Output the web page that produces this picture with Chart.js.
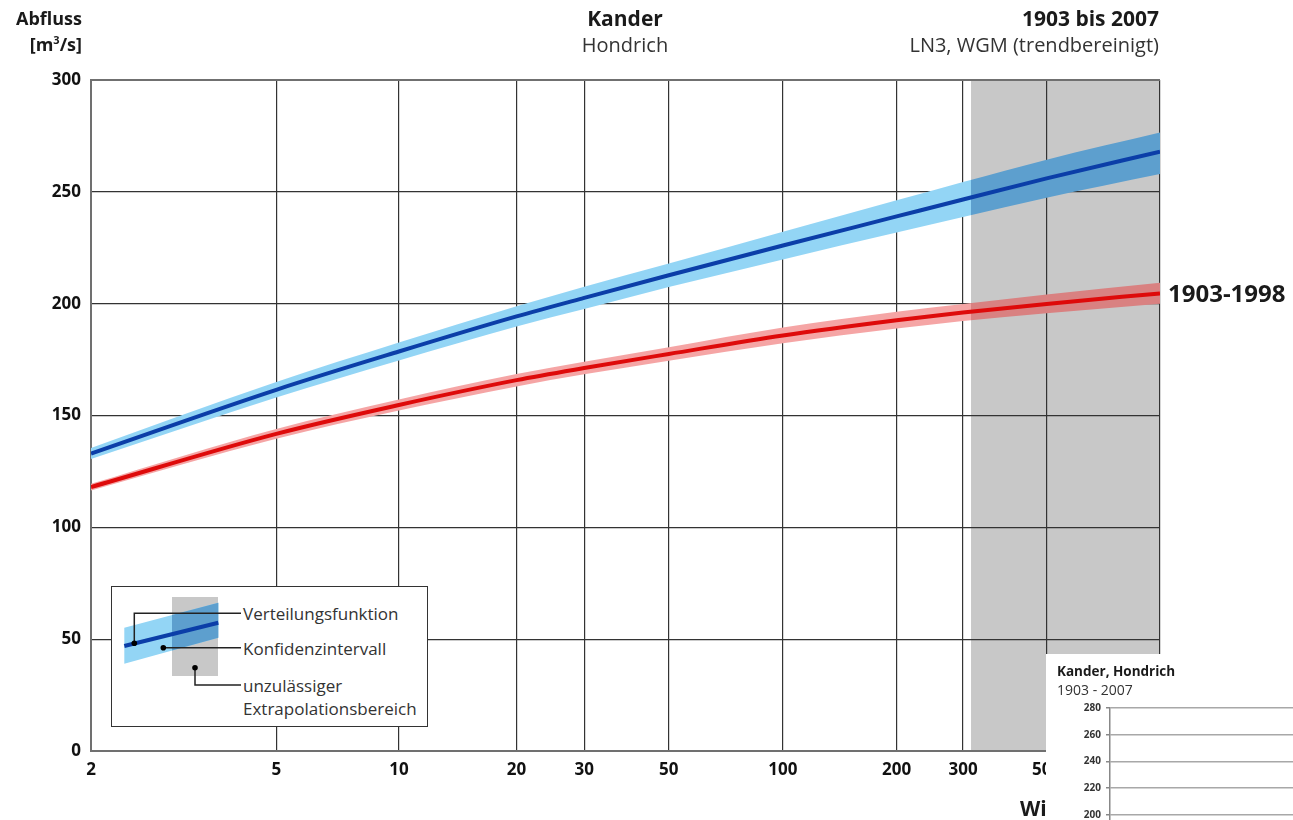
<!DOCTYPE html>
<html lang="de">
<head>
<meta charset="utf-8">
<title>Kander, Hondrich – Hochwasserstatistik</title>
<script src="https://cdn.jsdelivr.net/npm/chart.js@4.4.1/dist/chart.umd.min.js"></script>
<style>
  body { margin: 0; width: 1293px; height: 820px; overflow: hidden; position: relative; background: #fff;
         font-family: "Open Sans", "Noto Sans", sans-serif; color: #1a1a1a; }
  #main { position: absolute; left: 0; top: 0; }
  .lbl { position: absolute; white-space: nowrap; line-height: 1; transform: translateY(-50%); }
  .b { font-weight: 700; }
  .r { font-weight: 400; color: #333; }
  #legend { position: absolute; left: 111px; top: 586px; width: 315px; height: 139px;
            border: 1.5px solid #333; background: #fff; }
  #legend .lbl { font-size: 17px; color: #333; left: 131px; }
  #inset { position: absolute; left: 1046px; top: 654px; width: 247px; height: 166px;
           overflow: hidden; background: #fff; }
  #inset canvas { position: absolute; left: 0; top: 0; }
</style>
</head>
<body>
<canvas id="main" width="1293" height="820"></canvas>

<div class="lbl b" style="right:1211px; top:18px; font-size:18px;">Abfluss</div>
<div class="lbl b" style="right:1211px; top:43px; font-size:18px;">[m<sup style="font-size:11px; vertical-align:7px;">3</sup>/s]</div>
<div class="lbl b" style="left:625px; top:18px; font-size:21px; transform:translate(-50%,-50%);">Kander</div>
<div class="lbl r" style="left:625px; top:45px; font-size:20px; transform:translate(-50%,-50%);">Hondrich</div>
<div class="lbl b" style="right:134px; top:18px; font-size:21px;">1903 bis 2007</div>
<div class="lbl r" style="right:134px; top:45px; font-size:20px;">LN3, WGM (trendbereinigt)</div>
<div class="lbl b" style="left:1168px; top:293px; font-size:24px;">1903-1998</div>
<div class="lbl b" style="left:1020px; top:808px; font-size:21px;">Wi</div>

<div id="legend">
  <svg width="315" height="139" style="position:absolute; left:0; top:0;">
    <rect x="60" y="10" width="46" height="79" fill="#c8c8c8"/>
    <polygon points="12.3,40.7 106.3,15.7 106.3,50.7 12.3,76.7" fill="#93d5f5"/>
    <polygon points="60,28 106.3,15.7 106.3,50.7 60,63.5" fill="#5d9fce"/>
    <line x1="12.3" y1="59" x2="106.3" y2="35.7" stroke="#0b3ea8" stroke-width="4"/>
    <path d="M22.3,56.3 V26.3 H129 M51.3,60.7 H129 M83,80.7 V98 H129" fill="none" stroke="#222" stroke-width="1.5"/>
    <circle cx="22.3" cy="56.3" r="2.8" fill="#000"/>
    <circle cx="51.3" cy="60.7" r="2.8" fill="#000"/>
    <circle cx="83" cy="80.7" r="2.8" fill="#000"/>
  </svg>
  <div class="lbl" style="top:26px;">Verteilungsfunktion</div>
  <div class="lbl" style="top:61px;">Konfidenzintervall</div>
  <div class="lbl" style="top:98px;">unzulässiger</div>
  <div class="lbl" style="top:121px;">Extrapolationsbereich</div>
</div>

<div id="inset">
  <canvas id="inset-chart" width="247" height="305"></canvas>
  <div class="lbl b" style="left:11px; top:18px; font-size:13.5px;">Kander, Hondrich</div>
  <div class="lbl r" style="left:11px; top:36px; font-size:14px;">1903 - 2007</div>
</div>

<script>
// Wiederkehrperiode [Jahre] und Abfluss [m3/s]
const RETURN_PERIODS = [2, 5, 10, 20, 30, 50, 100, 200, 300, 500, 1000];
const X_TICKS = [2, 5, 10, 20, 30, 50, 100, 200, 300, 500, 1000];

// 1903 bis 2007 (blau)
const BLUE_FIT   = [133, 161.5, 178.6, 194.3, 202.6, 212.7, 226, 239, 246.6, 256, 268];
const BLUE_UPPER = [135.5, 165, 182.6, 198.8, 207.6, 218, 232.2, 246.2, 254.4, 264.4, 276.5];
const BLUE_LOWER = [130.5, 158, 174.6, 189.8, 197.6, 207.4, 219.8, 231.8, 238.8, 247.4, 258];

// 1903-1998 (rot)
const RED_FIT   = [118, 141.8, 154.7, 165.8, 171.2, 177.5, 185.8, 192.6, 196.1, 199.9, 204.6];
const RED_UPPER = [119.5, 144, 157.2, 168.5, 174, 180.5, 189.3, 196.4, 199.9, 204.1, 209.4];
const RED_LOWER = [116.5, 139.6, 152.2, 163, 168.4, 174.5, 182.3, 188.9, 192.3, 195.7, 200];

// unzulässiger Extrapolationsbereich ab T = 315 Jahre
const GRAY_FROM = 315;

const TICK_FONT = { family: 'Open Sans', size: 17, weight: 'bold' };

// Gumbel-Wahrscheinlichkeitspapier: reduzierte Variable
const gumbel = t => -Math.log(-Math.log(1 - 1 / t));

class GumbelScale extends Chart.Scale {
  determineDataLimits() {
    this.min = this.options.min;
    this.max = this.options.max;
  }
  buildTicks() {
    return X_TICKS.map(v => ({ value: v }));
  }
  configure() {
    super.configure();
    this._g0 = gumbel(this.min);
    this._gr = gumbel(this.max) - this._g0;
  }
  getLabelForValue(v) {
    return String(v);
  }
  getPixelForValue(v) {
    return this.getPixelForDecimal((gumbel(v) - this._g0) / this._gr);
  }
  getValueForPixel(px) {
    const g = this._g0 + this.getDecimalForPixel(px) * this._gr;
    return 1 / (1 - Math.exp(-Math.exp(-g)));
  }
}
GumbelScale.id = 'gumbel';
GumbelScale.defaults = {};
Chart.register(GumbelScale);

// band colour changes inside the grey region
function splitFill(light, dark) {
  return (c) => {
    const chart = c.chart;
    const a = chart.chartArea;
    if (!a) return light;
    const x = chart.scales.x.getPixelForValue(GRAY_FROM);
    const f = Math.min(1, Math.max(0, (x - a.left) / (a.right - a.left)));
    const g = chart.ctx.createLinearGradient(a.left, 0, a.right, 0);
    g.addColorStop(0, light);
    g.addColorStop(f, light);
    g.addColorStop(f, dark);
    g.addColorStop(1, dark);
    return g;
  };
}

const extrapolationShade = {
  id: 'extrapolationShade',
  beforeDraw(chart) {
    const { ctx, chartArea: a, scales: { x } } = chart;
    const left = x.getPixelForValue(GRAY_FROM);
    ctx.save();
    ctx.fillStyle = '#c8c8c8';
    ctx.fillRect(left, a.top, a.right - left, a.bottom - a.top);
    ctx.restore();
  }
};

const lineDefaults = { pointRadius: 0, cubicInterpolationMode: 'monotone' };

new Chart(document.getElementById('main'), {
  type: 'line',
  data: {
    labels: RETURN_PERIODS,
    datasets: [
      { ...lineDefaults, data: BLUE_FIT, borderColor: '#0b3ea8', borderWidth: 4, fill: false },
      { ...lineDefaults, data: RED_FIT, borderColor: '#de0a0a', borderWidth: 4, fill: false },
      { ...lineDefaults, data: BLUE_UPPER, borderWidth: 0, fill: '+1',
        backgroundColor: splitFill('#93d5f5', '#5d9fce') },
      { ...lineDefaults, data: BLUE_LOWER, borderWidth: 0, fill: false },
      { ...lineDefaults, data: RED_UPPER, borderWidth: 0, fill: '+1',
        backgroundColor: splitFill('#f5a5a5', '#d98181') },
      { ...lineDefaults, data: RED_LOWER, borderWidth: 0, fill: false }
    ]
  },
  options: {
    responsive: false,
    animation: false,
    layout: { padding: { top: 80, right: 133, bottom: 0, left: 0 } },
    plugins: { legend: { display: false }, tooltip: { enabled: false } },
    scales: {
      x: {
        type: 'gumbel',
        min: 2,
        max: 1000,
        grid: { color: '#333', lineWidth: 1.2, drawTicks: false },
        border: { color: '#707070', width: 2 },
        ticks: { font: TICK_FONT, color: '#111', padding: 9, maxRotation: 0, autoSkip: false },
        afterFit: s => { s.height = 69; }
      },
      y: {
        min: 0,
        max: 300,
        grid: {
          color: c => c.tick && c.tick.value === 300 ? '#707070' : '#333',
          lineWidth: c => c.tick && c.tick.value === 300 ? 2 : 1.2,
          drawTicks: false
        },
        border: { color: '#707070', width: 2 },
        ticks: { stepSize: 50, font: TICK_FONT, color: '#111', padding: 10 },
        afterFit: s => { s.width = 91; }
      }
    }
  },
  plugins: [extrapolationShade]
});

// second (overlapping) chart in the lower right corner
const INSET_Y_MIN = 100;
const INSET_Y_MAX = 280;

new Chart(document.getElementById('inset-chart'), {
  type: 'line',
  data: { labels: [], datasets: [] },
  options: {
    responsive: false,
    animation: false,
    layout: { padding: { top: 54, right: 0, bottom: 0, left: 0 } },
    plugins: { legend: { display: false }, tooltip: { enabled: false } },
    scales: {
      x: { display: false },
      y: {
        min: INSET_Y_MIN,
        max: INSET_Y_MAX,
        grid: {
          color: c => c.tick && c.tick.value % 20 === 0 ? '#a8a8a8' : 'rgba(0,0,0,0)',
          lineWidth: 1.5,
          tickColor: '#888',
          tickLength: 4
        },
        border: { color: '#888', width: 1.5 },
        ticks: {
          stepSize: 10,
          font: { family: 'Open Sans', size: 10, weight: 'bold' },
          color: '#333',
          padding: 5,
          callback: v => (v % 20 === 0 ? v : '')
        },
        afterFit: s => { s.width = 64; }
      }
    }
  }
});
</script>
</body>
</html>
